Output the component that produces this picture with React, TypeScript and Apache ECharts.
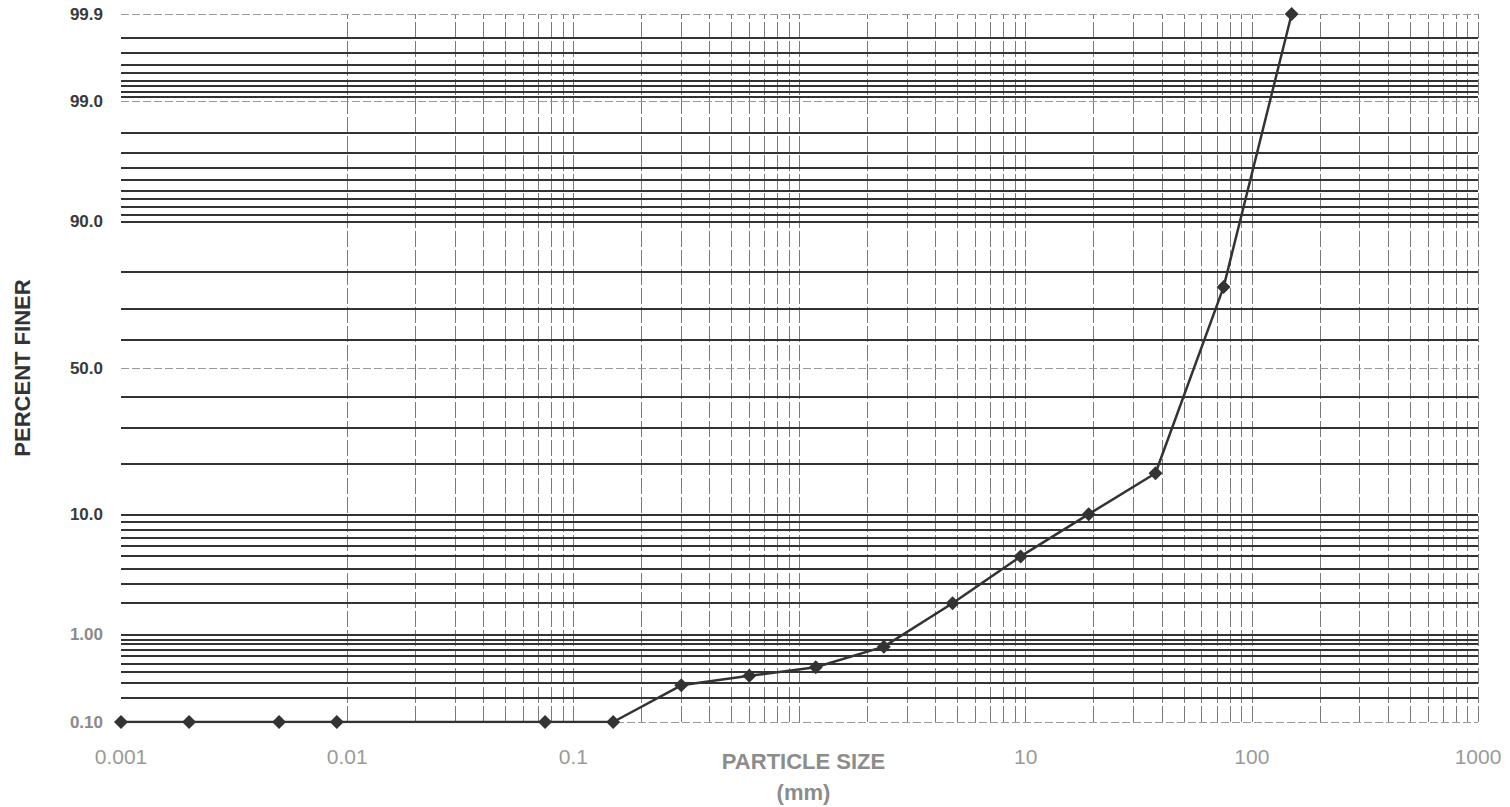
import React, { useEffect, useRef } from "react";
import * as echarts from "echarts";

// ---- data ----
const particleSizes = [0.001, 0.002, 0.005, 0.009, 0.075, 0.15, 0.3, 0.6, 1.18, 2.36, 4.75, 9.5, 19, 37.5, 75, 150];
const percentFiner = [0.1, 0.1, 0.1, 0.1, 0.1, 0.1, 0.28, 0.36, 0.45, 0.75, 2.0, 5.0, 10.1, 17.9, 76, 99.9];

const yTickPercents = [0.1, 1, 10, 50, 90, 99, 99.9];
const yTickLabels = ["0.10", "1.00", "10.0", "50.0", "90.0", "99.0", "99.9"];

const xTickValues = [0.001, 0.01, 0.1, 1, 10, 100, 1000];
const xTickLabels = ["0.001", "0.01", "0.1", "", "10", "100", "1000"];

// horizontal probability grid lines (percent)
const hMinorPercents = [
  0.2, 0.3, 0.4, 0.5, 0.6, 0.7, 0.8, 0.9,
  2, 3, 4, 5, 6, 7, 8, 9,
  20, 30, 40, 60, 70, 80,
  91, 92, 93, 94, 95, 96, 97, 98,
  99.1, 99.2, 99.3, 99.4, 99.5, 99.6, 99.7, 99.8,
];
const hMajorSolidPercents = [1, 10, 90];
const hMajorDashedPercents = [0.1, 50, 99, 99.9];

// vertical log grid lines
const xGridDecades = [0.001, 0.01, 0.1, 1, 10, 100];
const xGridMultipliers = [1, 2, 3, 4, 5, 6, 7, 8, 9];
const xGridEnd = 1000;

// inverse standard normal CDF (Acklam)
function probit(p: number): number {
  const a = [-3.969683028665376e1, 2.209460984245205e2, -2.759285104469687e2, 1.38357751867269e2, -3.066479806614716e1, 2.506628277459239];
  const b = [-5.447609879822406e1, 1.615858368580409e2, -1.556989798598866e2, 6.680131188771972e1, -1.328068155288572e1];
  const c = [-7.784894002430293e-3, -3.223964580411365e-1, -2.400758277161838, -2.549732539343734, 4.374664141464968, 2.938163982698783];
  const d = [7.784695709041462e-3, 3.224671290700398e-1, 2.445134137142996, 3.754408661907416];
  const pl = 0.02425;
  const ph = 1 - pl;
  if (p < pl) {
    const q = Math.sqrt(-2 * Math.log(p));
    return (((((c[0] * q + c[1]) * q + c[2]) * q + c[3]) * q + c[4]) * q + c[5]) / ((((d[0] * q + d[1]) * q + d[2]) * q + d[3]) * q + 1);
  }
  if (p <= ph) {
    const q = p - 0.5;
    const r = q * q;
    return ((((((a[0] * r + a[1]) * r + a[2]) * r + a[3]) * r + a[4]) * r + a[5]) * q) / (((((b[0] * r + b[1]) * r + b[2]) * r + b[3]) * r + b[4]) * r + 1);
  }
  const q = Math.sqrt(-2 * Math.log(1 - p));
  return -(((((c[0] * q + c[1]) * q + c[2]) * q + c[3]) * q + c[4]) * q + c[5]) / ((((d[0] * q + d[1]) * q + d[2]) * q + d[3]) * q + 1);
}

const pz = (pct: number) => probit(pct / 100);

export default function App() {
  const ref = useRef<HTMLDivElement>(null);

  useEffect(() => {
    if (!ref.current) return;
    const chart = echarts.init(ref.current, undefined, { renderer: "svg" });

    const yMin = pz(yTickPercents[0]);
    const yMax = pz(yTickPercents[yTickPercents.length - 1]);

    const xGridValues: number[] = [];
    xGridDecades.forEach((d) => xGridMultipliers.forEach((m) => xGridValues.push(d * m)));
    xGridValues.push(xGridEnd);

    const hLineData: any[] = [];
    hMinorPercents.forEach((p) =>
      hLineData.push({ yAxis: pz(p), lineStyle: { color: "#333333", width: 1.8, type: "solid" } })
    );
    hMajorSolidPercents.forEach((p) =>
      hLineData.push({ yAxis: pz(p), lineStyle: { color: "#333333", width: 1.8, type: "solid" } })
    );
    hMajorDashedPercents.forEach((p) =>
      hLineData.push({ yAxis: pz(p), lineStyle: { color: "#9a9a9a", width: 1, type: [8, 3] } })
    );

    const vLineData = xGridValues.map((v) => ({
      xAxis: v,
      lineStyle: { color: "#7a7a7a", width: 1, type: [16, 3] },
    }));

    const option: any = {
      animation: false,
      backgroundColor: "#ffffff",
      grid: { left: 121, right: 32, top: 14, bottom: 85, containLabel: false, outerBoundsMode: "none" },
      xAxis: {
        type: "log",
        logBase: 10,
        min: xTickValues[0],
        max: xTickValues[xTickValues.length - 1],
        splitNumber: 6,
        axisLine: { show: false },
        axisTick: { show: false },
        splitLine: { show: false },
        axisLabel: {
          margin: 24,
          fontFamily: "Arial, 'Liberation Sans', sans-serif",
          fontSize: 21,
          color: "#9a9a9a",
          showMinLabel: true,
          showMaxLabel: true,
          formatter: (v: number) => {
            const i = xTickValues.findIndex((t) => Math.abs(Math.log10(t) - Math.log10(v)) < 1e-6);
            return i >= 0 ? xTickLabels[i] : "";
          },
        },
        name: "PARTICLE SIZE\n(mm)",
        nameLocation: "middle",
        nameGap: 24,
        nameMoveOverlap: false,
        nameTextStyle: {
          fontFamily: "Arial, 'Liberation Sans', sans-serif",
          fontSize: 22,
          fontWeight: "bold",
          color: "#8c8c8c",
          lineHeight: 31,
          padding: [0, 0, 0, 8],
        },
      },
      yAxis: {
        type: "value",
        min: yMin,
        max: yMax,
        axisLine: { show: false },
        axisTick: { show: false },
        splitLine: { show: false },
        axisLabel: {
          customValues: yTickPercents.map((p) => pz(p)),
          showMinLabel: true,
          showMaxLabel: true,
          margin: 18,
          formatter: (v: number) => {
            let best = 0;
            let bd = Infinity;
            yTickPercents.forEach((p, i) => {
              const dd = Math.abs(pz(p) - v);
              if (dd < bd) {
                bd = dd;
                best = i;
              }
            });
            const style = yTickPercents[best] < 5 ? "g" : "d";
            return `{${style}|${yTickLabels[best]}}`;
          },
          rich: {
            d: { fontFamily: "Arial, 'Liberation Sans', sans-serif", fontSize: 17, fontWeight: "bold", color: "#3a3a3a" },
            g: { fontFamily: "Arial, 'Liberation Sans', sans-serif", fontSize: 17, fontWeight: "bold", color: "#8a8a8a" },
          },
        },
        name: "PERCENT FINER",
        nameLocation: "middle",
        nameRotate: 90,
        nameGap: 88,
        nameMoveOverlap: false,
        nameTextStyle: {
          fontFamily: "Arial, 'Liberation Sans', sans-serif",
          fontSize: 22,
          fontWeight: "bold",
          color: "#333333",
        },
      },
      series: [
        {
          name: "vgrid",
          type: "line",
          data: [],
          silent: true,
          z: 1,
          markLine: {
            silent: true,
            symbol: ["none", "none"],
            label: { show: false },
            animation: false,
            data: vLineData,
          },
        },
        {
          name: "hgrid",
          type: "line",
          data: [],
          silent: true,
          z: 2,
          markLine: {
            silent: true,
            symbol: ["none", "none"],
            label: { show: false },
            animation: false,
            data: hLineData,
          },
        },
        {
          name: "Percent finer",
          type: "line",
          z: 5,
          data: particleSizes.map((s, i) => [s, pz(percentFiner[i])]),
          symbol: "diamond",
          symbolSize: 14,
          showAllSymbol: true,
          lineStyle: { color: "#333333", width: 2.5 },
          itemStyle: { color: "#333333" },
        },
      ],
    };

    chart.setOption(option);
    return () => chart.dispose();
  }, []);

  return (
    <div
      ref={ref}
      style={{ position: "fixed", left: 0, top: 0, width: 1510, height: 807, background: "#fff" }}
    />
  );
}
